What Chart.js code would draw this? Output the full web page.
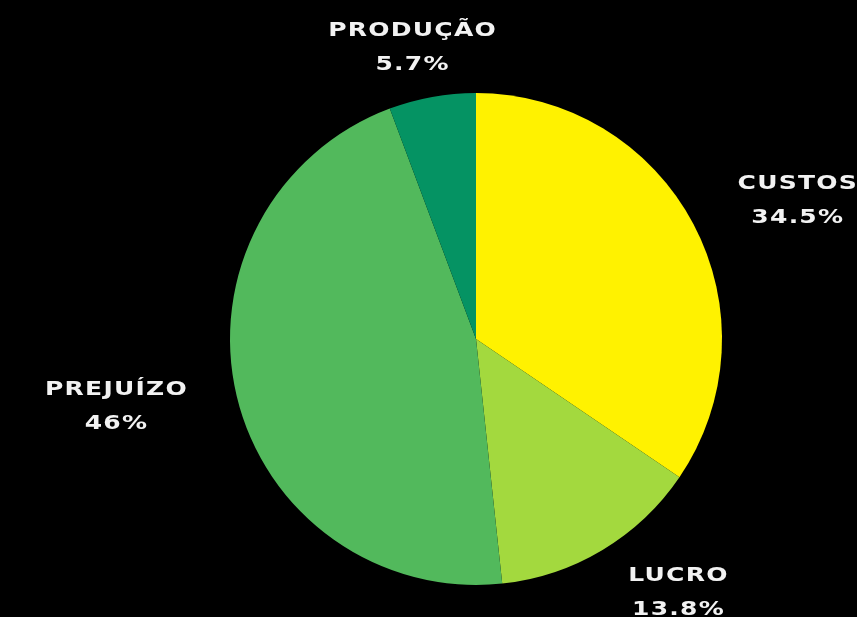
<!DOCTYPE html>
<html>
<head>
<meta charset="utf-8">
<script src="https://cdn.jsdelivr.net/npm/chart.js"></script>
<style>
  html, body { margin: 0; padding: 0; background: #000; }
  #box { width: 857px; height: 617px; }
</style>
</head>
<body>
<div id="box"><canvas id="myChart" width="857" height="617"></canvas></div>
<script>
var categories = ["CUSTOS", "LUCRO", "PREJUÍZO", "PRODUÇÃO"];
var values = [34.5, 13.8, 46, 5.7];
var percentLabels = ["34.5%", "13.8%", "46%", "5.7%"];
var sliceColors = ["#fff200", "#a3d93e", "#52b95c", "#059363"];

// labels outside each slice, two lines (name + percent), wide text
var outsideLabels = {
  id: "outsideLabels",
  afterDatasetsDraw: function (chart) {
    var ctx = chart.ctx;
    var meta = chart.getDatasetMeta(0);
    var stretch = 1.25;
    ctx.save();
    ctx.font = "bold 20px 'DejaVu Sans'";
    ctx.letterSpacing = "1px";
    ctx.fillStyle = "#f2f2f2";
    ctx.textAlign = "center";
    ctx.textBaseline = "middle";
    meta.data.forEach(function (arc, i) {
      var p = arc.getProps(["x", "y", "startAngle", "endAngle", "outerRadius"], true);
      var mid = (p.startAngle + p.endAngle) / 2;
      var dx = Math.cos(mid), dy = Math.sin(mid);
      var w = stretch * Math.max(ctx.measureText(categories[i]).width, ctx.measureText(percentLabels[i]).width);
      var off = 50;
      var k = Math.min(1, Math.pow(Math.abs(dx) / 0.5, 2));
      var cx = p.x + dx * (p.outerRadius + off) + Math.sign(dx) * k * w / 2;
      var cy = p.y + dy * (p.outerRadius + off);
      ctx.save();
      ctx.translate(cx, cy);
      ctx.scale(stretch, 1);
      ctx.fillText(categories[i], 0, -17);
      ctx.fillText(percentLabels[i], 0, 17);
      ctx.restore();
    });
    ctx.restore();
  }
};

var chart = new Chart(document.getElementById("myChart"), {
  type: "pie",
  data: {
    labels: categories,
    datasets: [{
      data: values,
      backgroundColor: sliceColors,
      borderWidth: 0
    }]
  },
  options: {
    responsive: false,
    animation: false,
    layout: { padding: { top: 93, bottom: 32, left: 95, right: 0 } },
    plugins: {
      legend: { display: false },
      tooltip: { enabled: false }
    }
  },
  plugins: [outsideLabels]
});
</script>
</body>
</html>
